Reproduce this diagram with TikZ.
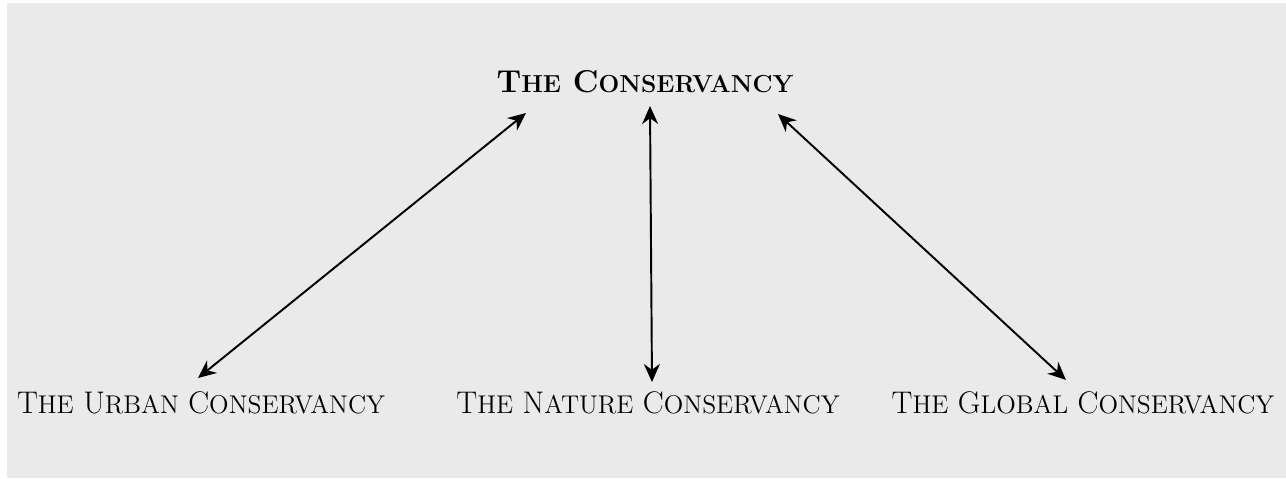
\documentclass[tikz,border=0pt]{standalone}
\usepackage{fontspec}
\usetikzlibrary{arrows.meta, positioning}
\definecolor{cbg}{HTML}{EAEAEA}
\newcommand{\smc}{\fontsize{14.6}{14.6}\selectfont}
\newcommand{\smchead}{\fontsize{14}{14}\selectfont}
\tikzset{
  every picture/.style={line width=1.1pt},
  org/.style={font=\fontsize{17.8}{17.8}\selectfont, inner sep=0pt, anchor=base},
  head/.style={inner sep=0pt, anchor=base, font=\fontsize{18}{18}\selectfont\bfseries},
  link/.style={{Stealth[length=3.6mm, width=3.2mm]}-{Stealth[length=3.6mm, width=3.2mm]}, draw=black},
}

\begin{document}
\begin{tikzpicture}[x=0.02cm, y=-0.02cm]
  \useasboundingbox (0,0) rectangle (1286,478);
  \fill[cbg] (7,3) rectangle (1286,478);
  % the parent and its three branches
  \node[head] (top) at (645,92) {T{\smchead HE} C{\smchead ONSERVANCY}};
  \node[org] (urban) at (201,413) {T{\smc HE} U{\smc RBAN} C{\smc ONSERVANCY}};
  \node[org] (nature) at (648,413) {T{\smc HE} N{\smc ATURE} C{\smc ONSERVANCY}};
  \node[org] (global) at (1083,413) {T{\smc HE} G{\smc LOBAL} C{\smc ONSERVANCY}};
  % arrow ends
  \coordinate (topl) at (526,113);
  \coordinate (topm) at (650,106);
  \coordinate (topr) at (778,114);
  \coordinate (urbanend) at (198,378);
  \coordinate (natureend) at (652,382);
  \coordinate (globalend) at (1066,380);
  \draw[link] (topl) -- (urbanend);
  \draw[link] (topm) -- (natureend);
  \draw[link] (topr) -- (globalend);
\end{tikzpicture}
\end{document}
